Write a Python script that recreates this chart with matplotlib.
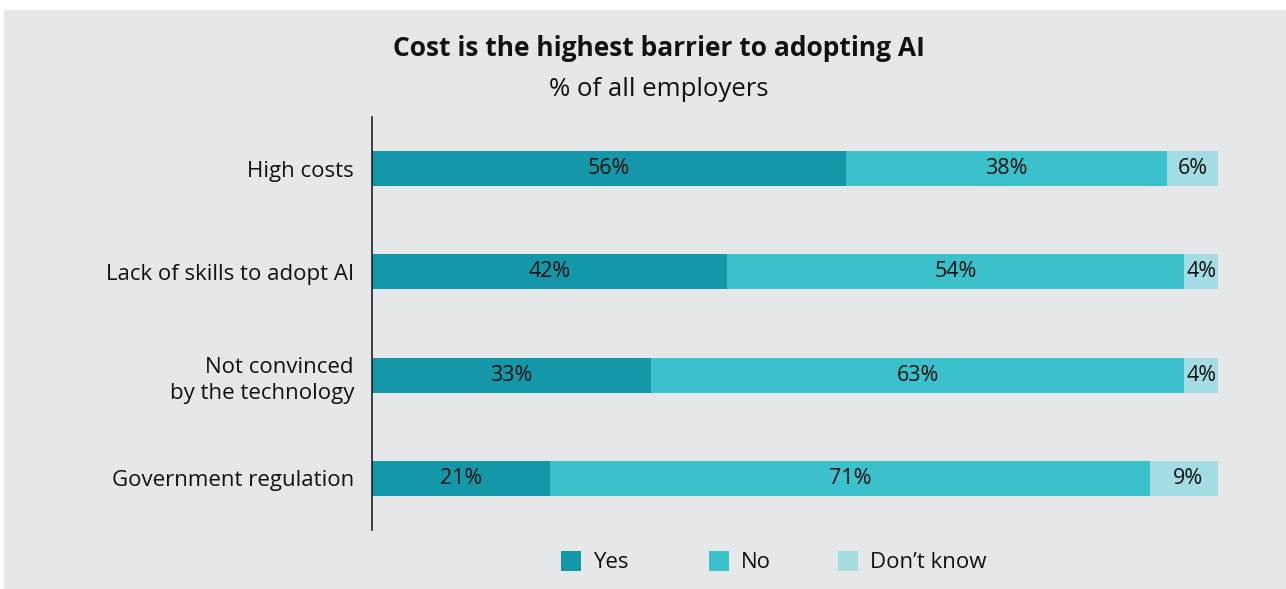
import matplotlib.pyplot as plt
from matplotlib.patches import Rectangle

plt.rcParams['font.family'] = ['Open Sans', 'DejaVu Sans']

categories = ['High costs', 'Lack of skills to adopt AI',
              'Not convinced\nby the technology', 'Government regulation']
yes = [56, 42, 33, 21]
no = [38, 54, 63, 71]
dont_know = [6, 4, 4, 9]
series_names = ['Yes', 'No', 'Don\u2019t know']
colors = ['#1597aa', '#3ac1cc', '#a3dde3']
bg = '#e6e7e9'
ink = '#111111'

W, H = 1286, 589
fig = plt.figure(figsize=(W / 100, H / 100), dpi=100)
fig.patch.set_facecolor('white')
# gray panel with small white margin top/left
fig.patches.append(Rectangle((4 / W, 0), 1, 1 - 10 / H, transform=fig.transFigure,
                             facecolor=bg, edgecolor='none', zorder=-10))

ax = fig.add_axes([372 / W, 1 - 530 / H, (1218 - 372) / W, (530 - 117) / H])
ax.patch.set_alpha(0)

ypos = list(range(len(categories)))
left = [0] * len(categories)
for vals, name, c in zip([yes, no, dont_know], series_names, colors):
    bars = ax.barh(ypos, vals, left=left, height=0.34, color=c, label=name)
    for b, v, l in zip(bars, vals, left):
        ax.text(l + v / 2, b.get_y() + b.get_height() / 2, f'{v}%',
                ha='center', va='center', fontsize=15.5, color=ink)
    left = [a + b for a, b in zip(left, vals)]

ax.set_xlim(0, 100)
ax.set_ylim(len(categories) - 0.5, -0.5)
ax.set_yticks(ypos)
ax.set_yticklabels(categories, fontsize=16, color=ink, linespacing=1.35)
ax.tick_params(axis='y', length=0, pad=13)
ax.set_xticks([])
for s in ['top', 'right', 'bottom']:
    ax.spines[s].set_visible(False)
ax.spines['left'].set_color('#222222')
ax.spines['left'].set_linewidth(1.2)

fig.text(659 / W, 1 - 49 / H, 'Cost is the highest barrier to adopting AI',
         ha='center', va='center', fontsize=19, fontweight='bold', color=ink)
fig.text(659 / W, 1 - 90 / H, '% of all employers',
         ha='center', va='center', fontsize=18.5, color=ink)

# legend drawn by hand: swatch + label
legend_x = [561, 709, 838]
for x, name, c in zip(legend_x, series_names, colors):
    fig.patches.append(Rectangle((x / W, 1 - 571 / H), 20 / W, 20 / H,
                                 transform=fig.transFigure, facecolor=c, edgecolor='none'))
    fig.text((x + 32) / W, 1 - 563 / H, name, ha='left', va='center',
             fontsize=16, color=ink)

fig.savefig('out.png', dpi=100, facecolor=fig.get_facecolor())
